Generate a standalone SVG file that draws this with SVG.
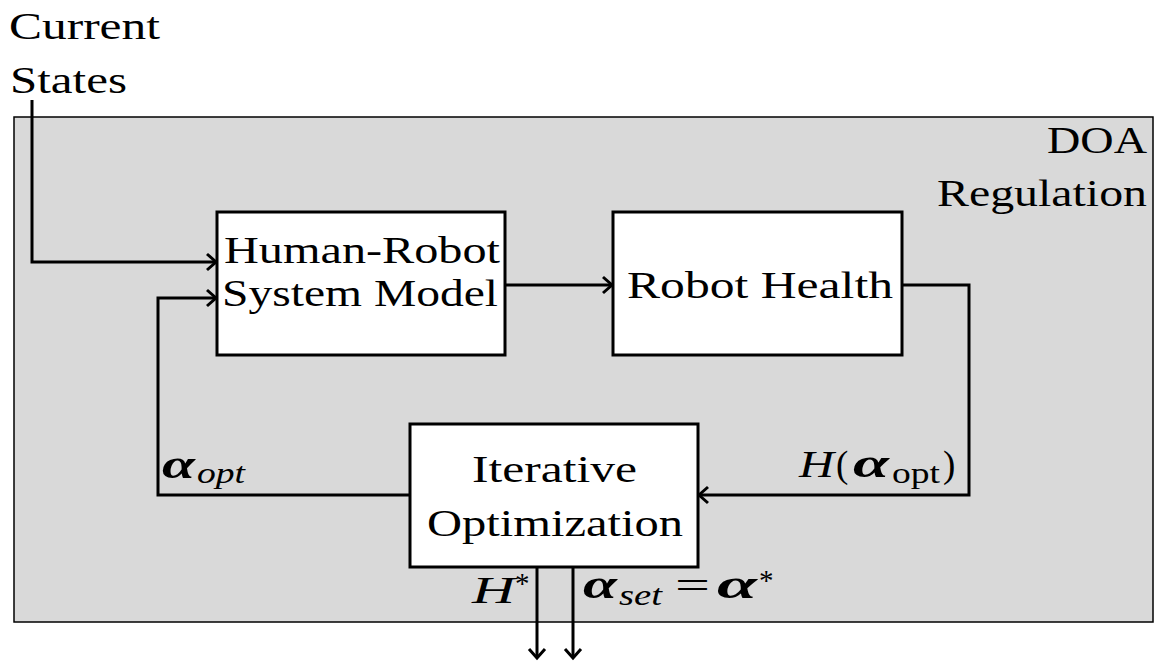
<svg xmlns="http://www.w3.org/2000/svg" width="1155" height="661" viewBox="0 0 1155 661">
<style>
text{font-family:"Liberation Serif","DejaVu Serif",serif;fill:#000}
.t{font-size:37px}
.a{font-size:40px;font-weight:bold;font-style:italic}
.i{font-style:italic}
.s{font-size:29px}
.box{fill:#fff;stroke:#000;stroke-width:3}
.c{fill:none;stroke:#000;stroke-width:3}
</style>
<defs>
<marker id="ah" markerUnits="userSpaceOnUse" markerWidth="20" markerHeight="20" viewBox="-12 -10 14 20" refX="0" refY="0" orient="auto">
<path d="M-9,-8 L0,0 L-9,8" fill="none" stroke="#000" stroke-width="3"/>
</marker>
</defs>
<rect x="0" y="0" width="1155" height="661" fill="#fff"/>
<g id="doa-regulation">
<rect x="14" y="117" width="1139" height="505" fill="#d9d9d9" stroke="#000" stroke-width="1.5"/>
<text class="t" x="1047" y="153" textLength="100" lengthAdjust="spacingAndGlyphs">DOA</text>
<text class="t" x="937" y="206" textLength="210" lengthAdjust="spacingAndGlyphs">Regulation</text>
</g>
<g id="current-states">
<text class="t" x="9" y="39" textLength="151" lengthAdjust="spacingAndGlyphs">Current</text>
<text class="t" x="10" y="93" textLength="117" lengthAdjust="spacingAndGlyphs">States</text>
</g>
<g id="connectors">
<path class="c" d="M32,100 V262 H216" marker-end="url(#ah)"/>
<path class="c" d="M410,495 H158 V298 H216" marker-end="url(#ah)"/>
<path class="c" d="M505,285 H612" marker-end="url(#ah)"/>
<path class="c" d="M902,285 H969 V495 H699" marker-end="url(#ah)"/>
<path class="c" d="M537,567 V658" marker-end="url(#ah)"/>
<path class="c" d="M573,567 V658" marker-end="url(#ah)"/>
</g>
<g id="human-robot-system-model">
<rect class="box" x="217" y="212" width="288" height="143"/>
<text class="t" x="224" y="263" textLength="276" lengthAdjust="spacingAndGlyphs">Human-Robot</text>
<text class="t" x="222" y="306" textLength="276" lengthAdjust="spacingAndGlyphs">System Model</text>
</g>
<g id="robot-health">
<rect class="box" x="613" y="212" width="289" height="143"/>
<text class="t" x="627" y="298" textLength="266" lengthAdjust="spacingAndGlyphs">Robot Health</text>
</g>
<g id="iterative-optimization">
<rect class="box" x="410" y="424" width="288" height="143"/>
<text class="t" x="472" y="482" textLength="165" lengthAdjust="spacingAndGlyphs">Iterative</text>
<text class="t" x="427" y="536" textLength="256" lengthAdjust="spacingAndGlyphs">Optimization</text>
</g>
<g id="labels">
<text class="a" x="162" y="478" textLength="33" lengthAdjust="spacingAndGlyphs">α</text>
<text class="s i" x="197" y="483" textLength="48" lengthAdjust="spacingAndGlyphs">opt</text>
<text class="t i" x="799" y="477" textLength="35" lengthAdjust="spacingAndGlyphs">H</text>
<text class="t" x="836" y="477">(</text>
<text class="a" x="853" y="477" textLength="36" lengthAdjust="spacingAndGlyphs">α</text>
<text class="s" x="892" y="483" textLength="48" lengthAdjust="spacingAndGlyphs">opt</text>
<text class="t" x="943" y="477">)</text>
<text class="t i" x="472" y="603" textLength="43" lengthAdjust="spacingAndGlyphs">H</text>
<text class="s" x="515" y="593">*</text>
<text class="a" x="583" y="598" textLength="34" lengthAdjust="spacingAndGlyphs">α</text>
<text class="s i" x="619" y="605" textLength="43" lengthAdjust="spacingAndGlyphs">set</text>
<text class="t" x="675" y="598" textLength="35" lengthAdjust="spacingAndGlyphs">=</text>
<text class="a" x="717" y="598" textLength="40" lengthAdjust="spacingAndGlyphs">α</text>
<text class="s" x="759" y="590">*</text>
</g>
</svg>
